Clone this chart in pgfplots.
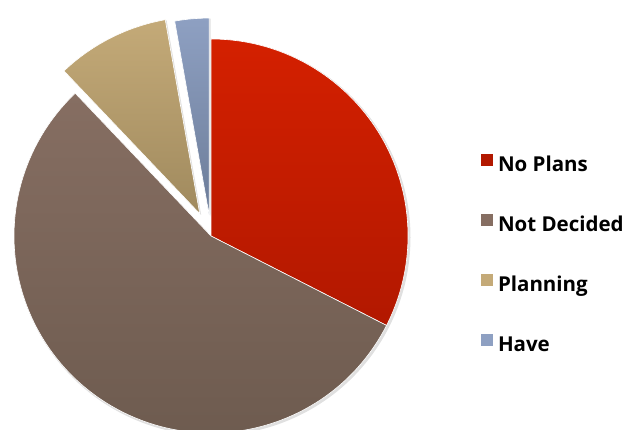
\documentclass[border=0pt]{standalone}
\usepackage{fontspec}
\setmainfont{Open Sans}
\usepackage{pgfplots}
\usepackage{pgfplotstable}
\pgfplotsset{compat=1.18}
\definecolor{npT}{HTML}{D42000}
\definecolor{npB}{HTML}{B21800}
\definecolor{ndT}{HTML}{866E62}
\definecolor{ndB}{HTML}{6C5A4E}
\definecolor{plT}{HTML}{C4AA78}
\definecolor{plB}{HTML}{A08A5E}
\definecolor{hvT}{HTML}{8EA0C2}
\definecolor{hvB}{HTML}{6C7C98}
\pgfplotstableread[col sep=comma]{
name,value,explode,top,bot
No Plans,32.5,0,npT,npB
Not Decided,55.4,0,ndT,ndB
Planning,9.3,25,plT,plB
Have,2.8,21,hvT,hvB
}\pietable
\begin{document}
\begin{tikzpicture}
\begin{axis}[name=ax,
  x=1pt, y=1pt, xmin=0, xmax=627, ymin=0, ymax=430,
  scale only axis, hide axis, clip=true,
  legend style={at={(axis cs:481,276)}, anchor=north west, draw=none, fill=none,
    inner sep=0pt, outer sep=0pt,
    font=\bfseries\fontsize{20.5}{20.5}\selectfont,
    row sep=39pt,
    nodes={inner sep=0pt, text height=13pt, text depth=3pt},
    /tikz/every odd column/.append style={column sep=5pt}},
  legend cell align=left,
  legend image code/.code={\fill[#1] (0pt,1pt) rectangle (12pt,13pt);},
]
\addlegendimage{fill=npB, draw=none}
\addlegendentry{No Plans}
\addlegendimage{fill=ndT, draw=none}
\addlegendentry{Not Decided}
\addlegendimage{fill=plT, draw=none}
\addlegendentry{Planning}
\addlegendimage{fill=hvT, draw=none}
\addlegendentry{Have}
\pgfplotsextra{
  \gdef\cur{90}
  \pgfplotstablegetrowsof{\pietable}
  \pgfmathtruncatemacro\nrows{\pgfplotsretval-1}
  \foreach \i in {0,...,\nrows}{
    \pgfplotstablegetelem{\i}{value}\of\pietable \let\v\pgfplotsretval
    \pgfplotstablegetelem{\i}{explode}\of\pietable \let\ex\pgfplotsretval
    \pgfplotstablegetelem{\i}{top}\of\pietable \let\tc\pgfplotsretval
    \pgfplotstablegetelem{\i}{bot}\of\pietable \let\bc\pgfplotsretval
    \pgfmathsetmacro\endang{\cur-3.6*\v}
    \pgfmathsetmacro\midang{(\cur+\endang)/2}
    \pgfmathsetmacro\ax{211+\ex*cos(\midang)}
    \pgfmathsetmacro\ay{194+\ex*sin(\midang)}
    \fill[black, opacity=0.12] (axis cs:\ax+1.5,\ay-1.5) -- ++(\cur:198pt) arc[start angle=\cur, end angle=\endang, radius=198pt] -- cycle;
    \shade[top color=\tc, bottom color=\bc, draw=white, line width=0.6pt] (axis cs:\ax,\ay) -- ++(\cur:197pt) arc[start angle=\cur, end angle=\endang, radius=197pt] -- cycle;
    \xdef\cur{\endang}
  }
}
\end{axis}
\pgfresetboundingbox
\useasboundingbox (ax.south west) rectangle (ax.north east);
\end{tikzpicture}
\end{document}
